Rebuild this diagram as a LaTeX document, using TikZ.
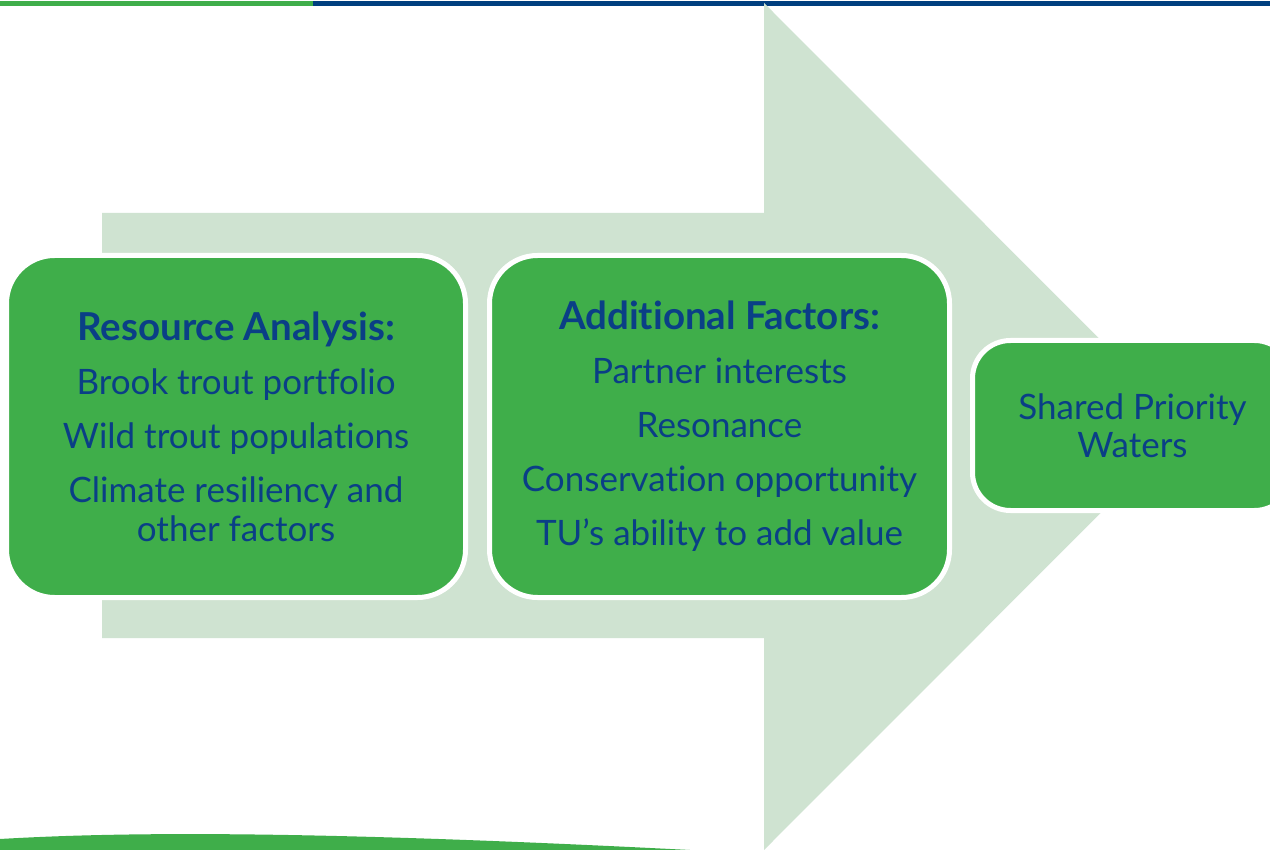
\documentclass[tikz,border=0pt]{standalone}
\usepackage{fontspec}
\setmainfont{Lato}[Ligatures=NoCommon]
\definecolor{boxgreen}{HTML}{3FAE4A}
\definecolor{navy}{HTML}{0A3F86}
\definecolor{arrowc}{HTML}{CFE3D1}
\definecolor{barblue}{HTML}{003F7F}
\tikzset{
  stagebox/.style={draw=white, line width=5pt, fill=boxgreen, rounded corners=48pt,
    inner sep=0pt, align=center, text=navy},
}
\newcommand{\hdfont}{\fontsize{38.5}{54}\selectfont\bfseries}
\begin{document}
\begin{tikzpicture}[x=1pt,y=-1pt]
\useasboundingbox (0,0) rectangle (1270,850);
\clip (0,0) rectangle (1270,850);
\fill[white] (0,0) rectangle (1270,850);
% top bar
\fill[boxgreen] (0,1) rectangle (313,6);
\fill[barblue] (313,1) rectangle (1270,6);
% big arrow
\fill[arrowc] (102,213) -- (764,213) -- (764,3) -- (1187,426.5) -- (764,850) -- (764,638) -- (102,638) -- cycle;
% bottom swoosh
\fill[boxgreen] (0,839) .. controls (120,832) and (300,830) .. (690,850) -- (0,850) -- cycle;
% boxes
\node[stagebox, minimum width=459pt, minimum height=342pt,
  font=\fontsize{35}{54}\selectfont] (ra) at (236,426.5)
  {{\hdfont Resource Analysis:}\\Brook trout portfolio\\Wild trout populations\\Climate resiliency and\\[-15pt]other factors};
\node[stagebox, minimum width=460pt, minimum height=342pt,
  font=\fontsize{35}{54}\selectfont] (af) at (719.5,426.5)
  {{\hdfont Additional Factors:}\\Partner interests\\Resonance\\Conservation opportunity\\TU’s ability to add value};
\node[stagebox, rounded corners=38pt, minimum width=320pt, minimum height=170pt,
  font=\fontsize{35}{38}\selectfont] (sp) at (1132.5,425.5)
  {Shared Priority\\Waters};
\end{tikzpicture}
\end{document}
